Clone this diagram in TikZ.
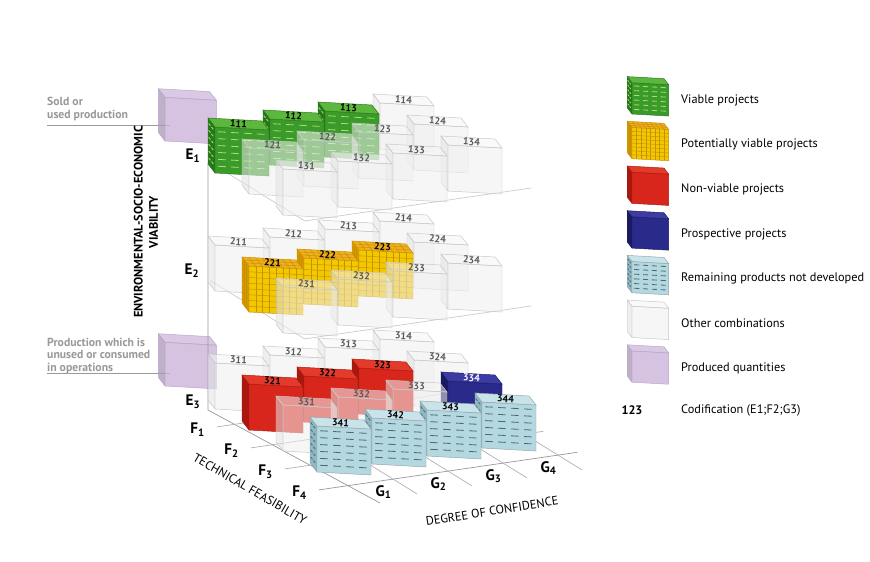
\documentclass[tikz,border=0pt]{standalone}
\usepackage{fontspec}
\setmainfont{PT Sans}
\usetikzlibrary{calc}

\definecolor{gfront}{HTML}{3A9A2A}\definecolor{gleft}{HTML}{26761B}\definecolor{gtop}{HTML}{5CB83C}\definecolor{gtex}{HTML}{A8E070}
\definecolor{yfront}{HTML}{F2C800}\definecolor{yleft}{HTML}{D99A00}\definecolor{ytop}{HTML}{F0B020}\definecolor{ytex}{HTML}{C89000}
\definecolor{rfront}{HTML}{D8261C}\definecolor{rleft}{HTML}{A8180F}\definecolor{rtop}{HTML}{E43A2C}
\definecolor{bfront}{HTML}{2A2A8A}\definecolor{bleft}{HTML}{1A1A60}\definecolor{btop}{HTML}{3C3CA4}
\definecolor{lfront}{HTML}{B4D8E0}\definecolor{lleft}{HTML}{8FB8C4}\definecolor{ltop}{HTML}{C8E4EA}\definecolor{ltex}{HTML}{506870}
\definecolor{pfill}{HTML}{C8B0D8}
\definecolor{axisgray}{HTML}{999999}

\tikzset{
  viable-front/.style={fill=gfront,draw=gleft},
  viable-left/.style={fill=gleft,draw=gleft},
  viable-top/.style={fill=gtop,draw=gleft},
  potential-front/.style={fill=yfront,draw=ytex},
  potential-left/.style={fill=yleft,draw=ytex},
  potential-top/.style={fill=ytop,draw=ytex},
  nonviable-front/.style={fill=rfront,draw=rleft},
  nonviable-left/.style={fill=rleft,draw=rleft},
  nonviable-top/.style={fill=rtop,draw=rleft},
  prospective-front/.style={fill=bfront,draw=bleft},
  prospective-left/.style={fill=bleft,draw=bleft},
  prospective-top/.style={fill=btop,draw=bleft},
  remaining-front/.style={fill=lfront,draw=ltex!60},
  remaining-left/.style={fill=lleft,draw=ltex!60},
  remaining-top/.style={fill=ltop,draw=ltex!60},
  other-front/.style={fill=gray!12,fill opacity=0.55,draw=gray!45},
  other-left/.style={fill=gray!22,fill opacity=0.55,draw=gray!45},
  other-top/.style={fill=gray!8,fill opacity=0.55,draw=gray!45},
  produced-front/.style={fill=pfill,fill opacity=0.75,draw=pfill!80!gray},
  produced-left/.style={fill=pfill!85!black,fill opacity=0.75,draw=pfill!80!gray},
  produced-top/.style={fill=pfill!90!white,fill opacity=0.75,draw=pfill!80!gray},
  cubelabel/.style={font=\bfseries\fontsize{8.5}{8}\selectfont,rotate=-4,inner sep=0pt},
  legendtext/.style={anchor=west,font=\fontsize{10.5}{12}\selectfont,inner sep=0pt},
  sidetext/.style={anchor=west,align=left,text=axisgray,font=\bfseries\fontsize{10}{10.5}\selectfont,inner sep=0pt},
  axislabel/.style={font=\bfseries\fontsize{13}{13}\selectfont,inner sep=0pt},
  axistitle/.style={font=\fontsize{10.5}{11}\selectfont,inner sep=0pt},
  gridline/.style={draw=axisgray,line width=0.6pt}
}

% textures of the front and left faces
\newcommand\txviable{%
  \foreach \v in {1,...,6}{\foreach \u in {0.06,0.3,0.54,0.78}{%
    \draw[gtex,line width=0.7pt] (54*\u,3*\u-46*\v*0.15) -- ++(7.5,0.4);}
    \foreach \s in {0.25,0.65}{\draw[gtex,line width=0.7pt] (-7*\s,-9*\s-46*\v*0.15) -- ++(-1.8,-2.3);}}}
\newcommand\txremaining{%
  \foreach \v in {1,...,6}{\foreach \u in {0.06,0.3,0.54,0.78}{%
    \draw[ltex,line width=0.7pt] (54*\u,3*\u-46*\v*0.15) -- ++(7.5,0.4);}
    \foreach \s in {0.25,0.65}{\draw[ltex,line width=0.7pt] (-7*\s,-9*\s-46*\v*0.15) -- ++(-1.8,-2.3);}}}
\newcommand\txpotential{%
  \foreach \i in {1,...,7}{%
    \draw[ytex,line width=0.4pt] (54*\i/8,3*\i/8) -- ++(0,-46);
    \draw[ytex,line width=0.4pt] (0,-46*\i/8) -- ++(54,3);
    \draw[ytex,line width=0.4pt] (0,-46*\i/8) -- ++(-7,-9);
    \draw[ytex,line width=0.4pt] (54*\i/8,3*\i/8-46) -- ++(-7,-9);}
  \foreach \i in {1,2}{\draw[ytex,line width=0.4pt] (-7*\i/3,-9*\i/3) -- ++(0,-46);
    \draw[ytex,line width=0.4pt] (-7*\i/3,-9*\i/3-46) -- ++(54,3);}}
\newcommand\txnonviable{}
\newcommand\txprospective{}
\newcommand\txother{}
\newcommand\txproduced{}

% one block: front-left-bottom corner, kind, label, label colour
\newcommand\blk[5]{%
  \begin{scope}[shift={(#1,#2)}]
    \path[#3-left] (0,0) -- (-7,-9) -- (-7,-55) -- (0,-46) -- cycle;
    \path[#3-front] (0,0) -- (54,3) -- (54,-43) -- (0,-46) -- cycle;
    \path[#3-top] (0,-46) -- (54,-43) -- (47,-52) -- (-7,-55) -- cycle;
    \csname tx#3\endcsname
    \node[cubelabel,text=#5] at (23.5,-49) {#4};
  \end{scope}}

% block of the grid: level, row, column, kind
\newcommand\gcube[4]{%
  \pgfmathsetmacro\cx{215+55*(#3-1)+34*(#2-1)}
  \pgfmathsetmacro\cy{173+118*(#1-1)+21*(#2-1)-8*(#3-1)}
  \ifnum\pdfstrcmp{#4}{other}=0
    \blk{\cx}{\cy}{#4}{#1#2#3}{gray!70!black}
  \else\ifnum\pdfstrcmp{#4}{prospective}=0
    \blk{\cx}{\cy}{#4}{#1#2#3}{white}
  \else
    \blk{\cx}{\cy}{#4}{#1#2#3}{black}
  \fi\fi}

\newcommand\gp[3]{({215+55*(#3)+34*(#2)},{173+118*(#1)+21*(#2)-8*(#3)})}

\begin{document}
\begin{tikzpicture}[x={(0.03cm,0)},y={(0,-0.03cm)}]
\useasboundingbox[fill=white] (0,0) rectangle (870,562);

% side labels and produced quantities
\draw[axisgray,line width=0.5pt] (47,125) -- (170,125);
\node[sidetext] (sold) at (47,109) {Sold or\\used production};
\begin{scope}[shift={(165,141)},scale=0.95]
  \path[produced-left] (0,0) -- (-7,-9) -- (-7,-55) -- (0,-46) -- cycle;
  \path[produced-front] (0,0) -- (54,3) -- (54,-43) -- (0,-46) -- cycle;
  \path[produced-top] (0,-46) -- (54,-43) -- (47,-52) -- (-7,-55) -- cycle;
\end{scope}
\draw[axisgray,line width=0.5pt] (47,373) -- (170,373);
\node[sidetext] (unused) at (47,356) {Production which is\\unused or consumed\\in operations};
\begin{scope}[shift={(165,386)},scale=0.95]
  \path[produced-left] (0,0) -- (-7,-9) -- (-7,-55) -- (0,-46) -- cycle;
  \path[produced-front] (0,0) -- (54,3) -- (54,-43) -- (0,-46) -- cycle;
  \path[produced-top] (0,-46) -- (54,-43) -- (47,-52) -- (-7,-55) -- cycle;
\end{scope}
\node[font=\bfseries\fontsize{10.5}{13}\selectfont,rotate=90,align=center] (viab) at (146,222) {ENVIRONMENTAL-SOCIO-ECONOMIC\\VIABILITY};

% axes and planes
\draw[gridline] (208,163) -- (208,410) -- (380,503);
\foreach \e in {0,1}{
  \draw[gridline,draw=gray!40] \gp{\e}{-0.43}{0.18} -- \gp{\e}{2.35}{0.18} -- \gp{\e}{2.35}{4.3};}
\foreach \a in {0.7,1.7,2.7}{\draw[gridline,draw=gray!60] \gp{2}{\a}{-0.4} -- \gp{2}{\a}{4.3};}
\draw[gridline] \gp{2}{3.7}{-0.4} -- \gp{2}{3.7}{4.3};
\foreach \b in {0.95,1.95,2.95,3.95}{\draw[gridline,draw=gray!60] \gp{2}{2.6}{\b} -- \gp{2}{4.4}{\b};}

% level 1
\foreach \g/\k in {4/other,3/viable,2/viable,1/viable}{\gcube{1}{1}{\g}{\k}}
\foreach \g in {4,3,2,1}{\gcube{1}{2}{\g}{other}}
\foreach \g in {4,3,2,1}{\gcube{1}{3}{\g}{other}}
% level 2
\foreach \g in {4,3,2,1}{\gcube{2}{1}{\g}{other}}
\foreach \g/\k in {4/other,3/potential,2/potential,1/potential}{\gcube{2}{2}{\g}{\k}}
\foreach \g in {4,3,2,1}{\gcube{2}{3}{\g}{other}}
% level 3
\foreach \g in {4,3,2,1}{\gcube{3}{1}{\g}{other}}
\foreach \g/\k in {4/other,3/nonviable,2/nonviable,1/nonviable}{\gcube{3}{2}{\g}{\k}}
\foreach \g/\k in {4/prospective,3/other,2/other,1/other}{\gcube{3}{3}{\g}{\k}}
\foreach \g in {4,3,2,1}{\gcube{3}{4}{\g}{remaining}}

% axis labels
\node[axislabel] (e1) at (193,156) {E\textsubscript{1}};
\node[axislabel] (e2) at (192,271) {E\textsubscript{2}};
\node[axislabel] (e3) at (193,402) {E\textsubscript{3}};
\foreach \f in {1,...,4}{\node[axislabel] (f\f) at \gp{2}{\f-0.3}{-0.75} {F\textsubscript{\f}};}
\foreach \g in {1,...,4}{\node[axislabel] (g\g) at \gp{2}{4.15}{\g-0.5} {G\textsubscript{\g}};}
\node[axistitle,rotate=-30] (tech) at (250,489) {TECHNICAL FEASIBILITY};
\node[axistitle,rotate=9] (conf) at (492,511) {DEGREE OF CONFIDENCE};

% legend
\foreach \k/\t [count=\i] in {viable/Viable projects,potential/Potentially viable projects,nonviable/Non-viable projects,prospective/Prospective projects,remaining/Remaining products not developed,other/Other combinations,produced/Produced quantities}{
  \begin{scope}[shift={(632,{114+44.7*(\i-1)})},scale=0.68]
    \blk{0}{0}{\k}{}{black}
  \end{scope}
  \node[legendtext] (leg\i) at (681,{100+44.7*(\i-1)}) {\t};}
\node[font=\bfseries\fontsize{10.5}{12}\selectfont,inner sep=0pt] (code) at (632,410) {123};
\node[legendtext] (leg8) at (681,410) {Codification (E1;F2;G3)};
\end{tikzpicture}
\end{document}
